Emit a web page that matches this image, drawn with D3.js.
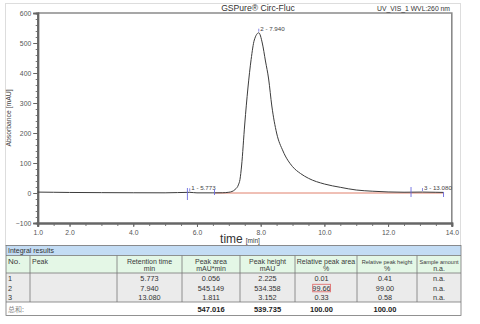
<!DOCTYPE html>
<html><head><meta charset="utf-8">
<script src="https://cdn.jsdelivr.net/npm/d3@7/dist/d3.min.js"></script>
<style>
html,body{margin:0;padding:0;background:#fff;}
svg{display:block;font-family:"Liberation Sans",Arial,sans-serif;}
</style></head>
<body><svg id="c" width="480" height="324"></svg>
<script>
// ---- chromatogram data ----
const times = [1.0, 1.5, 2.0, 3.0, 4.0, 5.0, 5.773, 6.0, 6.5, 6.8, 7.0, 7.1, 7.2, 7.3, 7.35, 7.4, 7.5, 7.6, 7.7, 7.8, 7.94, 8.05, 8.15, 8.25, 8.35, 8.5, 8.7, 9.0, 9.25, 9.5, 10.0, 10.5, 11.0, 11.5, 12.0, 12.5, 13.08, 13.5, 13.74];
const absorbance = [3.0, 2.4, 1.8, 1.2, 0.8, 0.6, 2.2, 0.5, 0.5, 0.8, 2.5, 5, 12, 27, 45, 90, 230, 350, 445, 510, 534, 500, 440, 380, 290, 200, 140, 88, 65, 49, 30, 19, 10, 6, 3.5, 2.6, 3.1, 2.4, 2.0];
const yTickValues = [-100, 0, 100, 200, 300, 400, 500, 600];
const xTickValues = [1, 2, 4, 6, 8, 10, 12, 14];
const xTickLabels = ["1.0", "2.0", "4.0", "6.0", "8.0", "10.0", "12.0", "14.0"];
const peakLabels = ["1 - 5.773", "2 - 7.940", "3 - 13.080"];
const peakTimes = [5.773, 7.940, 13.080];
const peakHeights = [2.225, 534.358, 3.152];
const baselineRange = [6.57, 13.74];
// ---- table data ----
const tableHeaders = [["No.", ""], ["Peak", ""], ["Retention time", "min"], ["Peak area", "mAU*min"], ["Peak height", "mAU"], ["Relative peak area", "%"], ["Relative peak height", "%"], ["Sample amount", "n.a."]];
const peakNo = ["1", "2", "3"];
const retention = ["5.773", "7.940", "13.080"];
const peakArea = ["0.056", "545.149", "1.811"];
const peakHeight = ["2.225", "534.358", "3.152"];
const relArea = ["0.01", "99.66", "0.33"];
const relHeight = ["0.41", "99.00", "0.58"];
const sampleAmount = ["n.a.", "n.a.", "n.a."];
const totals = ["总和:", "", "", "547.016", "539.735", "100.00", "100.00", ""];

const svg = d3.select("#c");
// outer light frame
svg.append("rect").attr("x", 5.5).attr("y", 3.5).attr("width", 455).attr("height", 242)
  .attr("fill", "none").attr("stroke", "#ddd");

const x = d3.scaleLinear().domain([1, 14]).range([37.7, 451.8]);
const y = d3.scaleLinear().domain([-100, 600]).range([223, 13]);

// plot border (top/right)
svg.append("path").attr("d", `M${x(1)},${y(600)}H${x(14)}V${y(-100)}`)
  .attr("fill", "none").attr("stroke", "#8a8a8a").attr("stroke-width", 1.6);

// titles
svg.append("text").attr("x", 258).attr("y", 10.5).attr("text-anchor", "middle")
  .attr("font-size", 8.6).attr("fill", "#333").text("GSPure® Circ-Fluc");
svg.append("text").attr("x", 450).attr("y", 10.5).attr("text-anchor", "end")
  .attr("font-size", 6.8).attr("fill", "#333").text("UV_VIS_1 WVL:260 nm");

// y axis
const gy = svg.append("g").attr("transform", `translate(${x(1)},0)`);
gy.call(d3.axisLeft(y).tickValues(d3.range(-100, 601, 20)).tickSize(2).tickFormat(""));
gy.call(g => g.selectAll(".tick line").attr("stroke", "#777"));
const gy2 = svg.append("g").attr("transform", `translate(${x(1)},0)`);
gy2.call(d3.axisLeft(y).tickValues(yTickValues).tickSize(4.5).tickPadding(2).tickFormat(d3.format("d")));
[gy, gy2].forEach(g => { g.select(".domain").attr("stroke", "#666").attr("stroke-width", 2); });
gy2.selectAll(".tick line").attr("stroke", "#666");
gy2.selectAll(".tick text").attr("font-size", 6.8).attr("fill", "#555").attr("font-family", "Liberation Sans, Arial, sans-serif");

// x axis
const gx = svg.append("g").attr("transform", `translate(0,${y(-100)})`);
gx.call(d3.axisBottom(x).tickValues(d3.range(1, 14.01, 0.5)).tickSize(3).tickFormat(""));
gx.selectAll(".tick line").attr("stroke", "#777");
const gx2 = svg.append("g").attr("transform", `translate(0,${y(-100)})`);
gx2.call(d3.axisBottom(x).tickValues(xTickValues).tickSize(4).tickPadding(3).tickFormat((d, i) => xTickLabels[i]));
[gx, gx2].forEach(g => g.select(".domain").attr("stroke", "#666").attr("stroke-width", 2));
gx2.selectAll(".tick line").attr("stroke", "#666");
gx2.selectAll(".tick text").attr("font-size", 6.8).attr("fill", "#555").attr("font-family", "Liberation Sans, Arial, sans-serif");

// axis labels
const xl = svg.append("text").attr("x", 240).attr("y", 243).attr("text-anchor", "middle").attr("fill", "#333");
xl.append("tspan").attr("font-size", 12).text("time");
xl.append("tspan").attr("font-size", 6.5).attr("dx", 3).text("[min]");
svg.append("text").attr("transform", `translate(11,${(y(600) + y(-100)) / 2}) rotate(-90)`)
  .attr("text-anchor", "middle").attr("font-size", 6.8).attr("fill", "#444").text("Absorbance [mAU]");

// baseline (integration)
svg.append("line").attr("x1", x(baselineRange[0])).attr("x2", x(baselineRange[1]))
  .attr("y1", y(0)).attr("y2", y(0)).attr("stroke", "#e0806c").attr("stroke-width", 1);

// chromatogram line
const pts = times.map((t, i) => [t, absorbance[i]]);
svg.append("path").datum(pts)
  .attr("d", d3.line().x(d => x(d[0])).y(d => y(d[1])).curve(d3.curveMonotoneX))
  .attr("fill", "none").attr("stroke", "#3c3c3c").attr("stroke-width", 1);

// peak markers
const blue = "#6b6be0";
peakTimes.forEach((t, i) => {
  const px = x(t), py = y(peakHeights[i]);
  svg.append("line").attr("x1", px).attr("x2", px).attr("y1", py - 4).attr("y2", py - 1)
    .attr("stroke", blue).attr("stroke-width", 0.8);
  svg.append("text").attr("x", px + 1.5).attr("y", py - 2).attr("font-size", 6.2)
    .attr("fill", "#444").text(peakLabels[i]);
});
// integration delimiters
const delims = [[5.70, 5, 7], [6.55, 4, 2], [12.72, 6, 4], [13.74, 1, 4]];
delims.forEach(d => {
  svg.append("line").attr("x1", x(d[0])).attr("x2", x(d[0])).attr("y1", y(0) - d[1]).attr("y2", y(0) + d[2])
    .attr("stroke", blue).attr("stroke-width", 0.9);
});

// ---- table ----
const colX = [6, 30, 117, 182, 240, 295, 357, 417, 461];
const tTop = 245.5, hdr2 = 255.5, dataTop = 273, totTop = 302, tBot = 315.5;
const tbl = svg.append("g");
tbl.append("rect").attr("x", colX[0]).attr("y", tTop).attr("width", colX[8] - colX[0]).attr("height", hdr2 - tTop).attr("fill", "#c3dcf4");
tbl.append("rect").attr("x", colX[0]).attr("y", hdr2).attr("width", colX[8] - colX[0]).attr("height", dataTop - hdr2).attr("fill", "#e4f7e6");
tbl.append("rect").attr("x", colX[0]).attr("y", dataTop).attr("width", colX[8] - colX[0]).attr("height", totTop - dataTop).attr("fill", "#ebebeb");
tbl.append("rect").attr("x", colX[0]).attr("y", totTop).attr("width", colX[8] - colX[0]).attr("height", tBot - totTop).attr("fill", "#fff");
// lines
[hdr2, dataTop, totTop].forEach(yy => tbl.append("line").attr("x1", colX[0]).attr("x2", colX[8]).attr("y1", yy).attr("y2", yy).attr("stroke", "#777").attr("stroke-width", 0.8));
colX.slice(1, 8).forEach(cx => tbl.append("line").attr("x1", cx).attr("x2", cx).attr("y1", hdr2).attr("y2", totTop).attr("stroke", "#777").attr("stroke-width", 0.8));
tbl.append("rect").attr("x", colX[0]).attr("y", tTop).attr("width", colX[8] - colX[0]).attr("height", tBot - tTop)
  .attr("fill", "none").attr("stroke", "#777").attr("stroke-width", 0.8);

tbl.append("text").attr("x", 8).attr("y", 253.3).attr("font-size", 7).attr("fill", "#333").text("Integral results");

tableHeaders.forEach((h, i) => {
  const left = i < 2;
  const small = i >= 6;
  const cx = left ? colX[i] + 2 : (colX[i] + colX[i + 1]) / 2;
  tbl.append("text").attr("x", cx).attr("y", 263.5).attr("text-anchor", left ? "start" : "middle")
    .attr("font-size", left && i === 0 ? 8 : (small ? 5.6 : 7)).attr("fill", "#3a3a3a").text(h[0]);
  if (h[1]) tbl.append("text").attr("x", cx).attr("y", 270.8).attr("text-anchor", "middle")
    .attr("font-size", 7).attr("fill", "#3a3a3a").text(h[1]);
});

const cols = [peakNo, null, retention, peakArea, peakHeight, relArea, relHeight, sampleAmount];
const rowBase = [281, 290.5, 300];
cols.forEach((col, i) => {
  if (!col) return;
  col.forEach((v, r) => {
    const left = i === 0;
    const cx = left ? colX[0] + 2 : (colX[i] + colX[i + 1]) / 2 - (i === 5 ? 4.5 : (i === 6 ? 2 : 0));
    tbl.append("text").attr("x", cx).attr("y", rowBase[r]).attr("text-anchor", left ? "start" : "middle")
      .attr("font-size", 7.3).attr("fill", "#333").text(v);
  });
});
// highlight box around 99.66
tbl.append("rect").attr("x", 312.7).attr("y", 284.3).attr("width", 17.8).attr("height", 7.5)
  .attr("fill", "none").attr("stroke", "#e07070").attr("stroke-width", 0.9);

totals.forEach((v, i) => {
  if (!v) return;
  if (i === 0) {
    tbl.append("text").attr("x", colX[0] + 2).attr("y", 311.5).attr("font-size", 7)
      .attr("font-family", "Noto Sans CJK SC, sans-serif").attr("fill", "#888").text(v);
  } else {
    tbl.append("text").attr("x", (colX[i] + colX[i + 1]) / 2 - (i === 5 ? 4.5 : (i === 6 ? 2 : 0))).attr("y", 311.5)
      .attr("text-anchor", "middle").attr("font-size", 7.5).attr("font-weight", "bold").attr("fill", "#222").text(v);
  }
});
</script>
</body></html>
